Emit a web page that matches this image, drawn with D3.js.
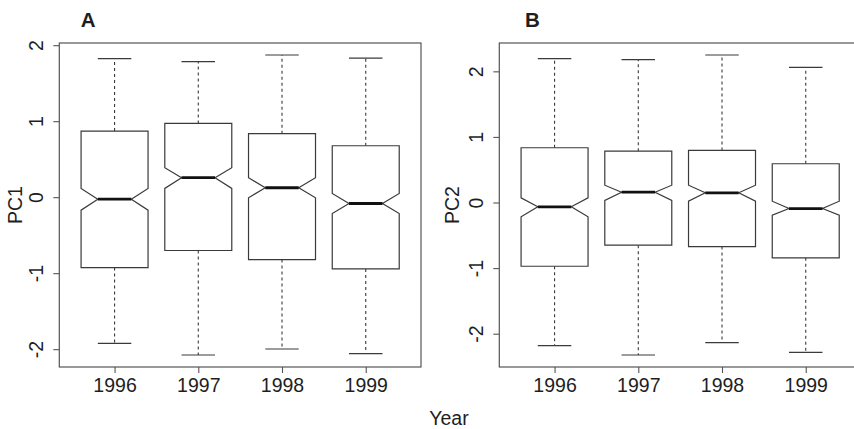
<!DOCTYPE html>
<html>
<head>
<meta charset="utf-8">
<script src="https://cdn.jsdelivr.net/npm/d3@7"></script>
<style>
body { margin: 0; background: #fff; }
svg { display: block; font-family: "Liberation Sans", Arial, sans-serif; }
</style>
</head>
<body>
<svg id="chart" width="854" height="429"></svg>
<script>
var years = ["1996", "1997", "1998", "1999"];
var yTicks = [-2, -1, 0, 1, 2];

// PC1 (panel A)
var pc1Low     = [-1.923, -2.077, -1.998, -2.059];
var pc1Q1      = [-0.926, -0.702, -0.821, -0.944];
var pc1Median  = [-0.026,  0.256,  0.124, -0.083];
var pc1Q3      = [ 0.870,  0.971,  0.835,  0.677];
var pc1High    = [ 1.823,  1.784,  1.871,  1.831];
var pc1NotchLo = [-0.171,  0.115, -0.008, -0.215];
var pc1NotchHi = [ 0.115,  0.387,  0.256,  0.049];

// PC2 (panel B)
var pc2Low     = [-2.183, -2.325, -2.137, -2.285];
var pc2Q1      = [-0.972, -0.651, -0.672, -0.844];
var pc2Median  = [-0.066,  0.157,  0.148, -0.092];
var pc2Q3      = [ 0.835,  0.783,  0.794,  0.591];
var pc2High    = [ 2.194,  2.178,  2.249,  2.061];
var pc2NotchLo = [-0.218,  0.031,  0.020, -0.194];
var pc2NotchHi = [ 0.072,  0.264,  0.264,  0.020];

var ink = "#3a3a3a";
var textInk = "#1e1e1e";
var fontSize = "19.5px";

function rows(low, q1, med, q3, high, nlo, nhi) {
    return years.map(function(y, i) {
        return {year: y, pos: i + 1, low: low[i], q1: q1[i], med: med[i],
                q3: q3[i], high: high[i], nlo: nlo[i], nhi: nhi[i]};
    });
}

function draw_panel(svg, data, opts) {
    var g = svg.append("g").attr("transform", "translate(" + opts.left + "," + opts.top + ")");
    var w = opts.width, h = opts.height;

    // R style 4% range extension
    var lo = d3.min(data, function(d) { return d.low; });
    var hi = d3.max(data, function(d) { return d.high; });
    var pad = (hi - lo) * 0.04;
    var y = d3.scaleLinear().domain([lo - pad, hi + pad]).range([h, 0]);
    var x = d3.scaleLinear().domain([0.34, 4.66]).range([0, w]);
    var hw = x(1.4) - x(1);   // half box width (boxwex 0.8)

    var boxes = g.selectAll("g.box").data(data).enter().append("g").attr("class", "box");

    // whiskers
    boxes.append("line")
        .attr("x1", function(d) { return x(d.pos); }).attr("x2", function(d) { return x(d.pos); })
        .attr("y1", function(d) { return y(d.q3); }).attr("y2", function(d) { return y(d.high); })
        .attr("stroke", ink).attr("stroke-width", 1.1).attr("stroke-dasharray", "3,3");
    boxes.append("line")
        .attr("x1", function(d) { return x(d.pos); }).attr("x2", function(d) { return x(d.pos); })
        .attr("y1", function(d) { return y(d.q1); }).attr("y2", function(d) { return y(d.low); })
        .attr("stroke", ink).attr("stroke-width", 1.1).attr("stroke-dasharray", "3,3");
    // staples
    ["high", "low"].forEach(function(k) {
        boxes.append("line")
            .attr("x1", function(d) { return x(d.pos) - hw / 2; })
            .attr("x2", function(d) { return x(d.pos) + hw / 2; })
            .attr("y1", function(d) { return y(d[k]); }).attr("y2", function(d) { return y(d[k]); })
            .attr("stroke", ink).attr("stroke-width", 1.2);
    });

    // notched boxes
    boxes.append("path")
        .attr("d", function(d) {
            var c = x(d.pos);
            var p = d3.path();
            p.moveTo(c - hw, y(d.q3));
            p.lineTo(c + hw, y(d.q3));
            p.lineTo(c + hw, y(d.nhi));
            p.lineTo(c + hw / 2, y(d.med));
            p.lineTo(c + hw, y(d.nlo));
            p.lineTo(c + hw, y(d.q1));
            p.lineTo(c - hw, y(d.q1));
            p.lineTo(c - hw, y(d.nlo));
            p.lineTo(c - hw / 2, y(d.med));
            p.lineTo(c - hw, y(d.nhi));
            p.closePath();
            return p.toString();
        })
        .attr("fill", "#fff").attr("stroke", ink).attr("stroke-width", 1.2)
        .attr("stroke-linejoin", "miter");
    // medians
    boxes.append("line")
        .attr("x1", function(d) { return x(d.pos) - hw / 2; })
        .attr("x2", function(d) { return x(d.pos) + hw / 2; })
        .attr("y1", function(d) { return y(d.med); }).attr("y2", function(d) { return y(d.med); })
        .attr("stroke", "#111").attr("stroke-width", 2.8);

    // frame
    g.append("rect").attr("x", 0).attr("y", 0).attr("width", w).attr("height", h)
        .attr("fill", "none").attr("stroke", "#555").attr("stroke-width", 1.2);

    // y axis, labels rotated like R, plain hyphen for minus
    var ya = g.append("g").call(d3.axisLeft(y).tickValues(yTicks).tickSize(6)
                                .tickFormat(function(v) { return String(v); }));
    ya.select(".domain").remove();
    ya.selectAll("line").attr("stroke", "#555").attr("stroke-width", 1.1);
    ya.selectAll("text")
        .attr("x", null).attr("dy", null)
        .attr("transform", "translate(-16,0) rotate(-90)")
        .attr("text-anchor", "middle")
        .attr("fill", textInk).style("font-size", fontSize).style("font-family", "Liberation Sans, Arial, sans-serif");

    // x axis
    var xa = g.append("g").attr("transform", "translate(0," + h + ")")
        .call(d3.axisBottom(x).tickValues([1, 2, 3, 4]).tickSize(6)
              .tickFormat(function(v) { return years[v - 1]; }));
    xa.select(".domain").remove();
    xa.selectAll("line").attr("stroke", "#555").attr("stroke-width", 1.1);
    xa.selectAll("text").attr("y", 25).attr("dy", null)
        .attr("fill", textInk).style("font-size", fontSize).style("font-family", "Liberation Sans, Arial, sans-serif");

    // axis title
    svg.append("text")
        .attr("transform", "translate(" + opts.ylabX + "," + (opts.top + h / 2) + ") rotate(-90)")
        .attr("text-anchor", "middle")
        .attr("fill", textInk).style("font-size", fontSize)
        .text(opts.ylab);

    // panel letter
    svg.append("text")
        .attr("x", opts.letterX).attr("y", 27)
        .attr("fill", textInk).style("font-size", "20.5px").style("font-weight", "bold")
        .text(opts.letter);
}

function main() {
    var svg = d3.select("#chart");
    svg.append("rect").attr("width", 854).attr("height", 429).attr("fill", "#fff");

    draw_panel(svg, rows(pc1Low, pc1Q1, pc1Median, pc1Q3, pc1High, pc1NotchLo, pc1NotchHi),
               {left: 59.3, top: 43, width: 361.7, height: 324, ylab: "PC1", ylabX: 21.7,
                letter: "A", letterX: 80.7});
    draw_panel(svg, rows(pc2Low, pc2Q1, pc2Median, pc2Q3, pc2High, pc2NotchLo, pc2NotchHi),
               {left: 499.3, top: 43, width: 361.7, height: 324, ylab: "PC2", ylabX: 459.3,
                letter: "B", letterX: 525});

    svg.append("text")
        .attr("x", 449).attr("y", 425)
        .attr("text-anchor", "middle")
        .attr("fill", textInk).style("font-size", fontSize)
        .text("Year");
}

main();
</script>
</body>
</html>
